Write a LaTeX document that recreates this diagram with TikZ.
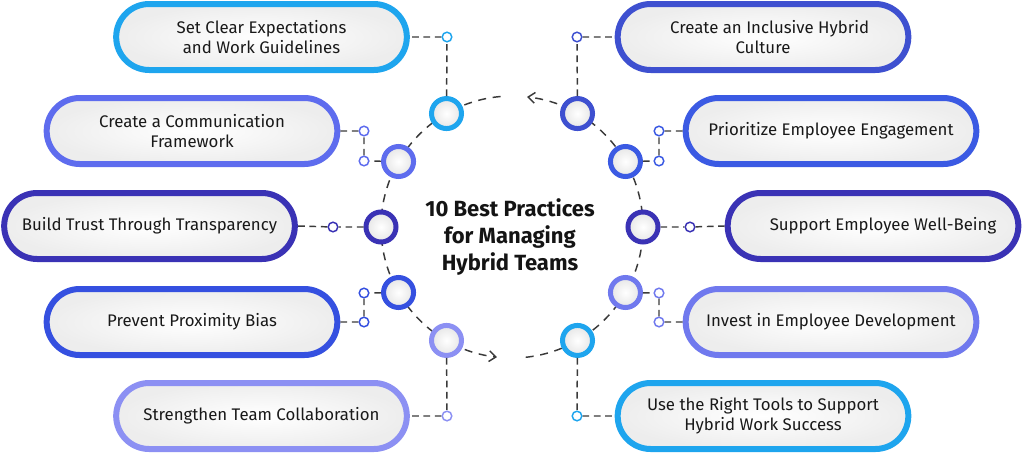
\documentclass[tikz,border=0pt]{standalone}
\usepackage{fontspec}
\setmainfont{Fira Sans}
\usetikzlibrary{arrows.meta,calc,shadows}
\definecolor{cLB}{HTML}{1EA5EE}
\definecolor{cPeri}{HTML}{5E6CEE}
\definecolor{cInd}{HTML}{3A32B5}
\definecolor{cBlue}{HTML}{3550E0}
\definecolor{cLav}{HTML}{8C90F3}
\definecolor{cRoyal}{HTML}{3E50D0}
\definecolor{cBlueB}{HTML}{3B5AE3}
\definecolor{cLavB}{HTML}{7079EE}
\definecolor{cLine}{HTML}{3A3A3A}
\begin{document}
\begin{tikzpicture}[x=0.75pt,y=-0.75pt,
  pill/.style={draw=#1, line width=4.5pt, rounded corners=24.75pt,
    minimum width=218pt, minimum height=49.5pt, inner sep=0pt,
    inner color=white, outer color=black!7, align=center,
    font=\fontsize{12.6}{15.3}\selectfont, text=black!90,
    drop shadow={opacity=0.15, shadow xshift=1.5pt, shadow yshift=-1.8pt}},
  bigc/.style={circle, draw=#1, line width=3.75pt, minimum size=22.5pt, inner sep=0pt,
    inner color=white, outer color=black!10},
  smallc/.style={circle, draw=#1, line width=1.1pt, minimum size=7.2pt, inner sep=0pt, fill=white},
  conn/.style={draw=cLine, line width=1.1pt, dash pattern=on 5pt off 3.5pt},
  ringarc/.style={draw=cLine, line width=1.1pt, dash pattern=on 6pt off 5pt}
]
\useasboundingbox (0,0) rectangle (1024,454);
\coordinate (c) at (512,227);
% ring arcs
\draw[ringarc, -{Straight Barb[length=5pt,width=8pt]}] ($(c)+(-95:131)$) arc[start angle=-95, end angle=-263.4, radius=131];
\draw[ringarc, -{Straight Barb[length=5pt,width=8pt]}] ($(c)+(84:131)$) arc[start angle=84, end angle=-83.4, radius=131];

% pills
\node[pill=cLB] (p1) at (261.5,37) {Set Clear Expectations\\and Work Guidelines};
\node[pill=cPeri] (p2) at (192,131) {Create a Communication\\Framework};
\node[pill=cInd] (p3) at (149.5,226) {Build Trust Through Transparency};
\node[pill=cBlue] (p4) at (192,322) {Prevent Proximity Bias};
\node[pill=cLav] (p5) at (261.5,416) {Strengthen Team Collaboration};
\node[pill=cRoyal] (p6) at (763,37) {\hspace*{10pt}Create an Inclusive Hybrid\\Culture};
\node[pill=cBlueB] (p7) at (831,131) {Prioritize Employee Engagement};
\node[pill=cInd] (p8) at (873,226) {\hspace*{15pt}Support Employee Well-Being};
\node[pill=cLavB] (p9) at (831,322) {Invest in Employee Development};
\node[pill=cLB] (p10) at (763,416) {Use the Right Tools to Support\\Hybrid Work Success};

% small circles
\node[smallc=cLB] (s1) at (447,37) {};
\node[smallc=cPeri] (s2a) at (364,131) {};
\node[smallc=cPeri] (s2b) at (364,161) {};
\node[smallc=cInd] (s3) at (333,227) {};
\node[smallc=cBlue] (s4a) at (364,293) {};
\node[smallc=cBlue] (s4b) at (364,322) {};
\node[smallc=cLav] (s5) at (447,416) {};
\node[smallc=cRoyal] (s6) at (577,37) {};
\node[smallc=cBlueB] (s7a) at (659,131) {};
\node[smallc=cBlueB] (s7b) at (659,161) {};
\node[smallc=cInd] (s8) at (690,227) {};
\node[smallc=cLavB] (s9a) at (659,293) {};
\node[smallc=cLavB] (s9b) at (659,322) {};
\node[smallc=cLB] (s10) at (577,416) {};

% big circles on ring
\node[bigc=cLB] (b1) at ($(c)+(-120:131)$) {};
\node[bigc=cPeri] (b2) at ($(c)+(-150:131)$) {};
\node[bigc=cInd] (b3) at ($(c)+(180:131)$) {};
\node[bigc=cBlue] (b4) at ($(c)+(150:131)$) {};
\node[bigc=cLav] (b5) at ($(c)+(120:131)$) {};
\node[bigc=cRoyal] (b6) at ($(c)+(-60:131)$) {};
\node[bigc=cBlueB] (b7) at ($(c)+(-30:131)$) {};
\node[bigc=cInd] (b8) at ($(c)+(0:131)$) {};
\node[bigc=cLavB] (b9) at ($(c)+(30:131)$) {};
\node[bigc=cLB] (b10) at ($(c)+(60:131)$) {};

% connectors
\draw[conn] (b1) -- (s1) -- (p1.east);
\draw[conn] (b2) -- (s2b) -- (s2a) -- (p2.east);
\draw[conn] (b3) -- (s3) -- (p3.east);
\draw[conn] (b4) -- (s4a) -- (s4b) -- (p4.east);
\draw[conn] (b5) -- (s5) -- (p5.east);
\draw[conn] (b6) -- (s6) -- (p6.west);
\draw[conn] (b7) -- (s7b) -- (s7a) -- (p7.west);
\draw[conn] (b8) -- (s8) -- (p8.west);
\draw[conn] (b9) -- (s9a) -- (s9b) -- (p9.west);
\draw[conn] (b10) -- (s10) -- (p10.west);

% title
\node[font=\bfseries\fontsize{16.5}{20}\selectfont, align=center, text=black!92] (title) at (510,237)
  {10 Best Practices\\for Managing\\Hybrid Teams};
\end{tikzpicture}
\end{document}
